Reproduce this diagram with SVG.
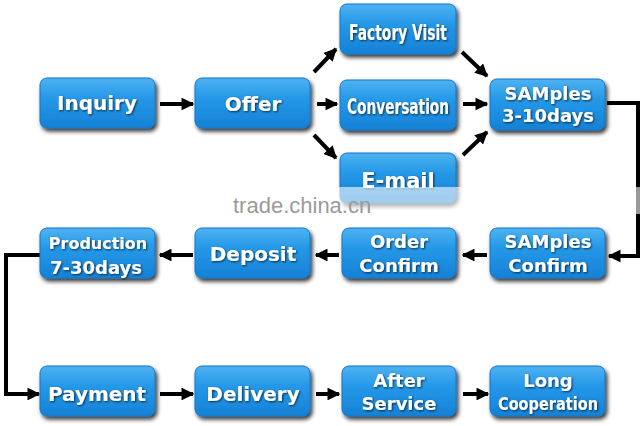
<svg xmlns="http://www.w3.org/2000/svg" width="644" height="426" viewBox="0 0 644 426">
<defs>
<linearGradient id="g" x1="0" y1="0" x2="0" y2="1">
<stop offset="0" stop-color="#4db2f2"/>
<stop offset="0.4" stop-color="#2598e8"/>
<stop offset="1" stop-color="#1581d6"/>
</linearGradient>
<filter id="sh" x="-20%" y="-20%" width="140%" height="150%">
<feGaussianBlur in="SourceAlpha" stdDeviation="2"/>
<feOffset dx="2" dy="3"/>
<feComponentTransfer><feFuncA type="linear" slope="0.8"/></feComponentTransfer>
<feMerge><feMergeNode/><feMergeNode in="SourceGraphic"/></feMerge>
</filter>
<filter id="ts" x="-10%" y="-20%" width="120%" height="140%">
<feGaussianBlur in="SourceAlpha" stdDeviation="0.8"/>
<feOffset dx="0.5" dy="1"/>
<feComponentTransfer><feFuncA type="linear" slope="0.7"/></feComponentTransfer>
<feMerge><feMergeNode/><feMergeNode in="SourceGraphic"/></feMerge>
</filter>
<marker id="ah" viewBox="0 0 10 10" refX="9" refY="5" markerWidth="3.2" markerHeight="3.2" orient="auto" markerUnits="strokeWidth">
<path d="M0,0 L10,5 L0,10 z" fill="#000"/>
</marker>
</defs>
<style>
.box{fill:url(#g);stroke:#1677c4;stroke-width:1;filter:url(#sh)}
.t{font-family:"DejaVu Sans",sans-serif;font-weight:bold;fill:#fff;text-anchor:middle;filter:url(#ts)}
.c{fill:none;stroke:#000;stroke-width:4;marker-end:url(#ah)}
</style>
<rect width="644" height="426" fill="#fff"/>

<g id="connectors">
<line class="c" x1="160" y1="104" x2="193" y2="104"/>
<line class="c" x1="314" y1="72" x2="336" y2="49"/>
<line class="c" x1="317" y1="104" x2="337" y2="104"/>
<line class="c" x1="314" y1="135" x2="336" y2="158"/>
<line class="c" x1="462" y1="52" x2="487" y2="76"/>
<line class="c" x1="463" y1="104" x2="487" y2="104"/>
<line class="c" x1="463" y1="155" x2="487" y2="132"/>
<polyline class="c" points="607,103 638,103 638,256 609,256"/>
<line class="c" x1="487" y1="255" x2="463" y2="255"/>
<line class="c" x1="339" y1="255" x2="316" y2="255"/>
<line class="c" x1="193" y1="255" x2="160" y2="255"/>
<polyline class="c" points="40,255 6,255 6,394 39,394"/>
<line class="c" x1="160" y1="394" x2="193" y2="394"/>
<line class="c" x1="316" y1="394" x2="339" y2="394"/>
<line class="c" x1="463" y1="394" x2="488" y2="394"/>
</g>

<g id="inquiry"><rect class="box" x="40" y="78" width="115" height="50" rx="7"/><text class="t" x="97" y="110" font-size="20">Inquiry</text></g>
<g id="offer"><rect class="box" x="195" y="78" width="115" height="50" rx="7"/><text class="t" x="253" y="111" font-size="20">Offer</text></g>
<g id="factory-visit"><rect class="box" x="340" y="4" width="116" height="50" rx="7"/><text class="t" x="398" y="40" font-size="21" textLength="98" lengthAdjust="spacingAndGlyphs">Factory Visit</text></g>
<g id="conversation"><rect class="box" x="340" y="80" width="116" height="50" rx="7"/><text class="t" x="398" y="114" font-size="21" textLength="102" lengthAdjust="spacingAndGlyphs">Conversation</text></g>
<g id="e-mail"><rect class="box" x="340" y="153" width="116" height="50" rx="7"/><text class="t" x="398" y="188" font-size="21">E-mail</text></g>
<g id="samples"><rect class="box" x="490" y="79" width="115" height="51" rx="7"/><text class="t" x="548" y="100" font-size="18">SAMples</text><text class="t" x="548" y="122" font-size="18">3-10days</text></g>

<g id="production"><rect class="box" x="40" y="228" width="115" height="50" rx="7"/><text class="t" x="98" y="249" font-size="16">Production</text><text class="t" x="96" y="274" font-size="18">7-30days</text></g>
<g id="deposit"><rect class="box" x="195" y="228" width="115" height="50" rx="7"/><text class="t" x="253" y="261" font-size="20">Deposit</text></g>
<g id="order-confirm"><rect class="box" x="342" y="228" width="114" height="50" rx="7"/><text class="t" x="399" y="248" font-size="18">Order</text><text class="t" x="399" y="272" font-size="18">Confirm</text></g>
<g id="samples-confirm"><rect class="box" x="490" y="228" width="115" height="50" rx="7"/><text class="t" x="548" y="248" font-size="18">SAMples</text><text class="t" x="548" y="272" font-size="18">Confirm</text></g>

<g id="payment"><rect class="box" x="40" y="366" width="115" height="50" rx="7"/><text class="t" x="97" y="401" font-size="20">Payment</text></g>
<g id="delivery"><rect class="box" x="195" y="366" width="115" height="50" rx="7"/><text class="t" x="253" y="401" font-size="20">Delivery</text></g>
<g id="after-service"><rect class="box" x="342" y="366" width="114" height="50" rx="7"/><text class="t" x="399" y="387" font-size="18">After</text><text class="t" x="399" y="410" font-size="18">Service</text></g>
<g id="long-cooperation"><rect class="box" x="490" y="366" width="115" height="50" rx="7"/><text class="t" x="548" y="387" font-size="18">Long</text><text class="t" x="548" y="410" font-size="17" textLength="100" lengthAdjust="spacingAndGlyphs">Cooperation</text></g>

<g id="watermark">
<rect x="330" y="187" width="314" height="27" fill="#fff" opacity="0.6"/>
<text x="233" y="213" font-family="Liberation Sans,Arial,sans-serif" font-size="22" fill="#9a9a9a">trade.china.cn</text>
</g>
</svg>
